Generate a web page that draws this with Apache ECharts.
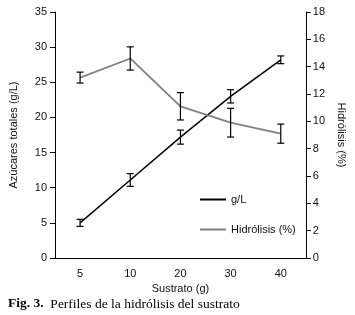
<!DOCTYPE html>
<html>
<head>
<meta charset="utf-8">
<script src="https://cdn.jsdelivr.net/npm/echarts@6/dist/echarts.min.js"></script>
<style>
  html, body { margin: 0; padding: 0; background: #fff; }
  #main { width: 355px; height: 315px; }
</style>
</head>
<body>
<div id="main"></div>
<script>
// datos
var sustrato = ['5', '10', '20', '30', '40'];
var azucares = [5.0, 11.1, 17.2, 23.0, 28.2];        // g/L
var azucaresErr = [0.5, 0.9, 1.0, 0.95, 0.55];
var hidrolisis = [13.2, 14.6, 11.1, 9.9, 9.1];       // %
var hidrolisisErr = [0.4, 0.85, 1.0, 1.05, 0.7];

// barras de error (linea vertical + topes)
function errorBars(vals, errs, axisIdx) {
  var data = vals.map(function (v, i) { return [i, v - errs[i], v + errs[i]]; });
  return {
    type: 'custom',
    yAxisIndex: axisIdx,
    silent: true,
    z: 5,
    renderItem: function (params, api) {
      var lo = api.coord([api.value(0), api.value(1)]);
      var hi = api.coord([api.value(0), api.value(2)]);
      var w = 3.5;
      var st = { stroke: '#000', lineWidth: 1.2 };
      return {
        type: 'group',
        children: [
          { type: 'line', shape: { x1: hi[0], y1: hi[1], x2: lo[0], y2: lo[1] }, style: st },
          { type: 'line', shape: { x1: hi[0] - w, y1: hi[1], x2: hi[0] + w, y2: hi[1] }, style: st },
          { type: 'line', shape: { x1: lo[0] - w, y1: lo[1], x2: lo[0] + w, y2: lo[1] }, style: st }
        ]
      };
    },
    data: data
  };
}

var chart = echarts.init(document.getElementById('main'));
var txt = { color: '#111', fontFamily: 'Liberation Sans, Arial', fontSize: 11 };

chart.setOption({
  animation: false,
  grid: { left: 53, right: 41, top: 12, bottom: 57 },
  title: {
    left: 8, top: 297,
    padding: 0,
    text: '{b|Fig. 3.}  Perfiles de la hidrólisis del sustrato',
    textStyle: {
      fontFamily: 'Liberation Serif, Times New Roman', fontSize: 13.5, fontWeight: 'normal', color: '#000',
      rich: { b: { fontFamily: 'Liberation Serif, Times New Roman', fontSize: 13.5, fontWeight: 'bold', color: '#000' } }
    }
  },
  legend: {
    orient: 'vertical',
    left: 200, top: 194,
    padding: 0,
    itemGap: 19,
    itemWidth: 26, itemHeight: 2,
    icon: 'rect',
    textStyle: txt,
    data: ['g/L', 'Hidrólisis (%)']
  },
  xAxis: {
    type: 'category',
    data: sustrato,
    name: 'Sustrato (g)',
    nameLocation: 'middle',
    nameGap: 25,
    nameTextStyle: txt,
    axisLine: { lineStyle: { color: '#000', width: 1 } },
    axisTick: { show: false },
    axisLabel: Object.assign({ margin: 10 }, txt)
  },
  yAxis: [{
    type: 'value',
    min: 0, max: 35, interval: 5,
    name: 'Azúcares totales (g/L)',
    nameLocation: 'middle',
    nameGap: 36,
    nameTextStyle: txt,
    splitLine: { show: false },
    axisLine: { show: true, lineStyle: { color: '#000', width: 1 } },
    axisTick: { show: true, length: 5, lineStyle: { color: '#000' } },
    axisLabel: Object.assign({ margin: 8 }, txt)
  }, {
    type: 'value',
    min: 0, max: 18, interval: 2,
    name: 'Hidrólisis (%)',
    nameLocation: 'middle',
    nameGap: 28,
    nameRotate: -90,
    nameTextStyle: txt,
    splitLine: { show: false },
    axisLine: { show: true, lineStyle: { color: '#000', width: 1 } },
    axisTick: { show: true, length: 5, lineStyle: { color: '#000' } },
    axisLabel: Object.assign({ margin: 7 }, txt)
  }],
  series: [{
    name: 'g/L',
    type: 'line',
    data: azucares,
    symbol: 'none',
    lineStyle: { color: '#000', width: 1.5 },
    itemStyle: { color: '#000' }
  }, {
    name: 'Hidrólisis (%)',
    type: 'line',
    yAxisIndex: 1,
    data: hidrolisis,
    symbol: 'none',
    lineStyle: { color: '#808080', width: 1.8 },
    itemStyle: { color: '#808080' }
  },
  errorBars(azucares, azucaresErr, 0),
  errorBars(hidrolisis, hidrolisisErr, 1)
  ]
});
</script>
</body>
</html>
